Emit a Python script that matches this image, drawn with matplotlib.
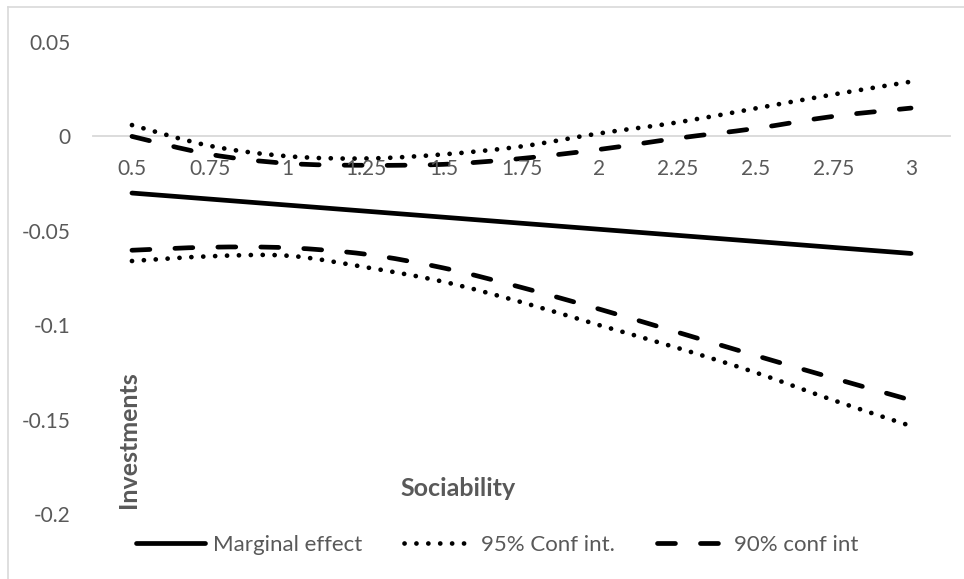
import matplotlib
matplotlib.use("Agg")
import matplotlib.pyplot as plt
from matplotlib.lines import Line2D
from matplotlib.path import Path
from matplotlib.patches import PathPatch

# ---- data ----
sociability = ["0.5", "0.75", "1", "1.25", "1.5", "1.75", "2", "2.25", "2.5", "2.75", "3"]
marginal_effect = [-0.030, -0.0332, -0.0364, -0.0396, -0.0428, -0.046, -0.0492, -0.0524, -0.0556, -0.0588, -0.062]
ci95_upper = [0.006, -0.005, -0.0105, -0.0117, -0.0095, -0.0053, 0.0016, 0.0074, 0.0148, 0.0222, 0.029]
ci95_lower = [-0.066, -0.0635, -0.0632, -0.0693, -0.077, -0.0878, -0.100, -0.112, -0.125, -0.1397, -0.1534]
ci90_upper = [0.000, -0.0095, -0.0143, -0.0153, -0.0148, -0.0117, -0.0069, -0.001, 0.0042, 0.0106, 0.015]
ci90_lower = [-0.0603, -0.0587, -0.059, -0.0624, -0.0697, -0.080, -0.0915, -0.1037, -0.116, -0.128, -0.1397]
y_ticks = [-0.2, -0.15, -0.1, -0.05, 0, 0.05]
y_tick_labels = ["-0.2", "-0.15", "-0.1", "-0.05", "0", "0.05"]

plt.rcParams['font.family'] = ['Lato', 'DejaVu Sans']
TXT = "#595959"
FS = 15
FS_LEG = 16
FS_LAB = 18

fig = plt.figure(figsize=(9.64, 5.79), dpi=100)
# outer chart border (left and top visible)
fig.add_artist(Line2D([8/964, 8/964], [0, 1 - 7/579], transform=fig.transFigure, color="#d9d9d9", lw=1.2))
fig.add_artist(Line2D([8/964, 1], [1 - 7/579, 1 - 7/579], transform=fig.transFigure, color="#d9d9d9", lw=1.2))

ax = fig.add_axes([93/964, 1 - 514/579, 857/964, 472/579])
x = list(range(len(sociability)))


def smooth_path(xs, ys):
    """Excel-style smoothed line: cubic Bezier segments through the data points."""
    n = len(xs)
    pts = list(zip(xs, ys))
    verts = [pts[0]]
    codes = [Path.MOVETO]
    for i in range(n - 1):
        p0 = pts[i - 1] if i > 0 else pts[i]
        p1 = pts[i]
        p2 = pts[i + 1]
        p3 = pts[i + 2] if i + 2 < n else pts[i + 1]
        c1 = (p1[0] + (p2[0] - p0[0]) / 6, p1[1] + (p2[1] - p0[1]) / 6)
        c2 = (p2[0] - (p3[0] - p1[0]) / 6, p2[1] - (p3[1] - p1[1]) / 6)
        verts += [c1, c2, p2]
        codes += [Path.CURVE4] * 3
    return Path(verts, codes)


lw = 3.4
DOT = (0.02, 2.5)
DASH = (3.8, 5.3)
styles = {
    "solid": dict(linestyle="solid"),
    "dot": dict(linestyle=(0, DOT)),
    "dash": dict(linestyle=(0, DASH)),
}

series = [
    (marginal_effect, "solid"),
    (ci95_upper, "dot"),
    (ci95_lower, "dot"),
    (ci90_upper, "dash"),
    (ci90_lower, "dash"),
]
for ys, st in series:
    p = PathPatch(smooth_path(x, ys), facecolor="none", edgecolor="black", lw=lw,
                  capstyle="round", joinstyle="round", **styles[st])
    ax.add_patch(p)

h1 = Line2D([], [], color="black", lw=lw, solid_capstyle="round", label="Marginal effect")
h2 = Line2D([], [], color="black", lw=lw, dashes=DOT, dash_capstyle="round", label="95% Conf int.")
h3 = Line2D([], [], color="black", lw=lw, dashes=DASH, dash_capstyle="round", label="90% conf int")

ax.set_xlim(-0.5, len(sociability) - 0.5)
ax.set_ylim(-0.2, 0.05)
ax.set_yticks(y_ticks)
ax.set_yticklabels(y_tick_labels)
ax.set_xticks(x)
ax.set_xticklabels(sociability)

for s in ["top", "right", "left"]:
    ax.spines[s].set_visible(False)
ax.spines["bottom"].set_position(("data", 0))
ax.spines["bottom"].set_color("#d9d9d9")
ax.spines["bottom"].set_linewidth(1.3)
ax.spines["bottom"].set_zorder(0.5)
ax.tick_params(axis="both", length=0, labelsize=FS, labelcolor=TXT)
ax.tick_params(axis="y", pad=16)
ax.tick_params(axis="x", pad=16)
ax.patch.set_alpha(0)

ax.set_ylabel("Investments", fontsize=FS_LAB, fontweight="bold", color=TXT)
ax.yaxis.set_label_coords((140 - 93) / 857, (514 - 440) / 472)
ax.set_xlabel("Sociability", fontsize=FS_LAB, fontweight="bold", color=TXT)
ax.xaxis.set_label_coords((458 - 93) / 857, (514 - 477) / 472)

fig.legend(handles=[h1, h2, h3], loc="center", bbox_to_anchor=(497/964, 1 - 545/579),
           ncol=3, frameon=False, fontsize=FS_LEG, labelcolor=TXT, handlelength=3.1,
           handletextpad=0.35, columnspacing=1.9)

fig.savefig("out.png", dpi=100)
